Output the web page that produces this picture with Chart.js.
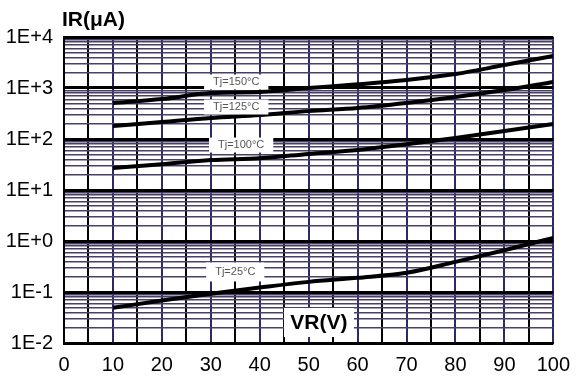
<!DOCTYPE html>
<html>
<head>
<meta charset="utf-8">
<script src="https://cdn.jsdelivr.net/npm/chart.js@4.4.1/dist/chart.umd.min.js"></script>
<style>
  html, body { margin:0; padding:0; background:#fff; }
  #wrap { width:580px; height:376px; }
</style>
</head>
<body>
<div id="wrap"><canvas id="c" width="580" height="376"></canvas></div>
<script>
// reverse voltage (V)
const vr = [10, 20, 30, 40, 50, 60, 70, 80, 90, 100];
// reverse current (uA) per junction temperature
const ir150 = [508, 608, 795, 835, 1000, 1180, 1435, 1880, 2820, 4240];
const ir125 = [180, 215, 258, 295, 352, 405, 508, 665, 910, 1310];
const ir100 = [27, 32, 38.7, 42, 51, 61, 79, 105, 144, 197];
const ir25  = [0.049, 0.068, 0.092, 0.122, 0.158, 0.19, 0.238, 0.39, 0.66, 1.15];
const seriesNames = ['Tj=150°C', 'Tj=125°C', 'Tj=100°C', 'Tj=25°C'];
// where each curve label sits, in data units
const tagX = [35.2, 35.2, 36.2, 35];
const tagY = [1312, 424, 76, 0.247];
const decades = [-2, -1, 0, 1, 2, 3, 4];
const xTitle = 'VR(V)';
const yTitle = 'IR(μA)';

const FONT = '"Liberation Sans", Arial, sans-serif';

function pts(ys) { return vr.map((v, i) => ({x: v, y: ys[i]})); }

const logTicks = [];
decades.forEach(e => {
  if (e === decades[decades.length - 1]) { logTicks.push(Math.pow(10, e)); return; }
  for (let m = 1; m <= 9; m++) logTicks.push(m * Math.pow(10, e));
});

function isDecade(v) {
  const l = Math.log10(v);
  return Math.abs(l - Math.round(l)) < 1e-6;
}

const labelsPlugin = {
  id: 'labels',
  afterDatasetsDraw(chart) {
    const ctx = chart.ctx, xs = chart.scales.x, ys = chart.scales.y;
    ctx.save();
    ctx.textAlign = 'center';
    ctx.textBaseline = 'middle';
    ctx.font = '11px ' + FONT;
    seriesNames.forEach((t, i) => {
      const px = xs.getPixelForValue(tagX[i]), py = ys.getPixelForValue(tagY[i]);
      const w = ctx.measureText(t).width + 18, h = i === 3 ? 19 : 15;
      ctx.fillStyle = '#fff';
      ctx.fillRect(px - w / 2, py - h / 2, w, h);
      ctx.fillStyle = '#555';
      ctx.fillText(t, px, py);
    });
    // axis title boxes
    ctx.font = 'bold 21px ' + FONT;
    const vx = xs.getPixelForValue(52.1), vy = ys.getPixelForValue(0.0258);
    ctx.fillStyle = '#fff';
    ctx.fillRect(vx - 35, vy - 14, 70, 29);
    ctx.fillStyle = '#000';
    ctx.fillText(xTitle, vx, vy + 1);
    ctx.textAlign = 'left';
    ctx.fillText(yTitle, 62, 20);
    ctx.restore();
  }
};

new Chart(document.getElementById('c'), {
  type: 'line',
  data: {
    datasets: [ir150, ir125, ir100, ir25].map((d, i) => ({
      label: seriesNames[i],
      data: pts(d),
      borderColor: '#000',
      borderWidth: 4,
      pointRadius: 0,
      fill: false,
      cubicInterpolationMode: 'monotone'
    }))
  },
  options: {
    responsive: false,
    animation: false,
    layout: { padding: { left: 0, top: 37, right: 19, bottom: 0 } },
    plugins: { legend: { display: false }, tooltip: { enabled: false } },
    scales: {
      x: {
        type: 'linear', min: 0, max: 100,
        ticks: {
          stepSize: 5, padding: 10, color: '#000',
          autoSkip: false, maxRotation: 0, minRotation: 0,
          font: { family: FONT, size: 20 },
          callback: v => (v % 10 === 0 ? String(v) : '')
        },
        grid: {
          drawTicks: false,
          color: c => (c.tick && c.tick.value % 10 === 0 ? '#2a2a6a' : '#000'),
          lineWidth: 2
        },
        border: { color: '#000', width: 2 },
        afterFit: s => { s.height = 33; }
      },
      y: {
        type: 'logarithmic', min: 0.01, max: 10000,
        afterBuildTicks: s => { s.ticks = logTicks.map(v => ({value: v, major: isDecade(v)})); },
        ticks: {
          autoSkip: false, padding: 11, color: '#000',
          font: { family: FONT, size: 20 },
          callback: v => {
            if (!isDecade(v)) return '';
            const e = Math.round(Math.log10(v));
            return '1E' + (e >= 0 ? '+' : '-') + Math.abs(e);
          }
        },
        grid: {
          drawTicks: false,
          color: c => (c.tick && isDecade(c.tick.value) ? '#000' : '#4a3f66'),
          lineWidth: c => (c.tick && isDecade(c.tick.value) ? 3 : 1.5)
        },
        border: { color: '#000', width: 2 },
        afterFit: s => { s.width = 64; }
      }
    }
  },
  plugins: [labelsPlugin]
});
</script>
</body>
</html>
